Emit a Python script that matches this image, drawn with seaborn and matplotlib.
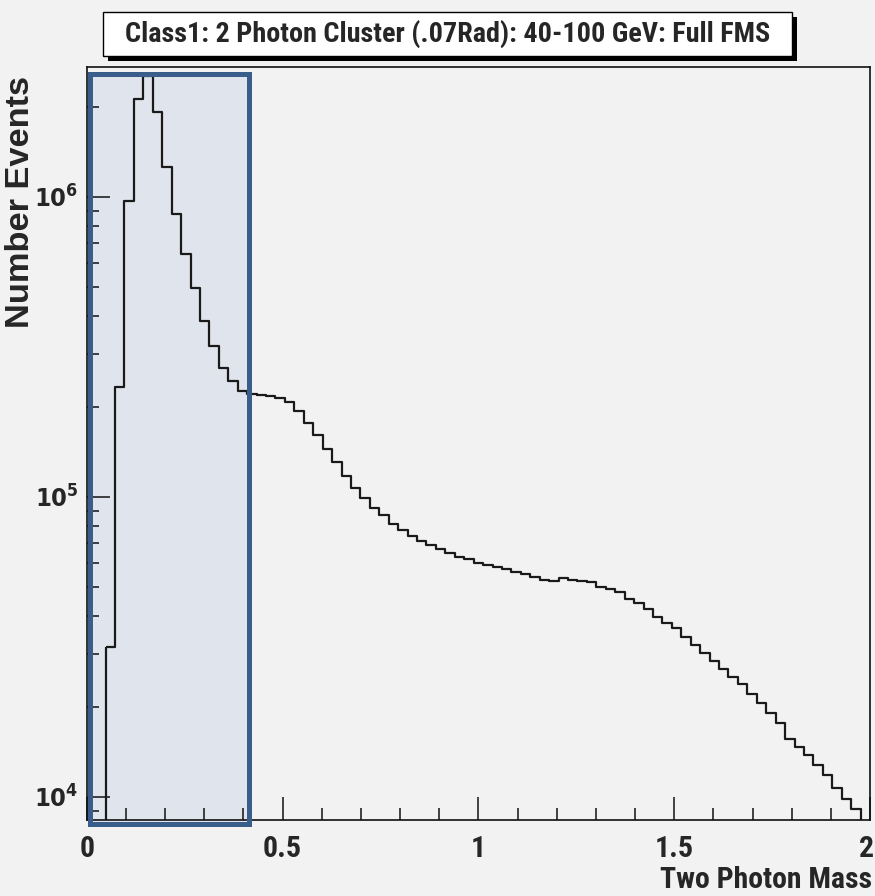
import numpy as np
import pandas as pd
import matplotlib
matplotlib.use("Agg")
import matplotlib.pyplot as plt
import matplotlib.transforms as mtransforms
import seaborn as sns
from matplotlib.patches import Rectangle
from matplotlib import font_manager as fm
from matplotlib.font_manager import FontProperties
from matplotlib.ticker import FixedLocator, FixedFormatter, LogLocator, MultipleLocator, NullFormatter

# ---------------- data ----------------
TITLE = "Class1: 2 Photon Cluster (.07Rad): 40-100 GeV: Full FMS"
X_LABEL = "Two Photon Mass"
Y_LABEL = "Number Events"

X_MIN, X_MAX, N_BINS = 0.0, 2.0, 83   # histogram binning
FIRST_BIN = 2                          # first non-empty bin index

counts = [
    31700, 233000, 972000, 2120000, 2520000, 1920000, 1262000, 876000,
    644000, 496000, 387000, 319000, 268500, 244000, 226000, 220000,
    219000, 217000, 213000, 207000, 194000, 177000, 161000, 145000,
    130500, 117000, 107000, 99000, 91900, 87300, 81000, 77300,
    74000, 71500, 69200, 67100, 65200, 63200, 62100, 60400,
    59300, 58300, 57300, 56300, 55400, 54200, 52900, 52300,
    53500, 52700, 52600, 52100, 50200, 49300, 48100, 45700,
    44400, 42300, 39900, 38100, 36500, 34200, 32100, 30300,
    28500, 26800, 25200, 23800, 22000, 20600, 19100, 17700,
    15600, 14700, 13800, 12800, 11800, 10700, 9850, 9120,
]

x_ticks = [0, 0.5, 1, 1.5, 2]
x_tick_labels = ["0", "0.5", "1", "1.5", "2"]
y_ticks = [1e4, 1e5, 1e6]
y_tick_labels = [r"$\mathbf{10^{4}}$", r"$\mathbf{10^{5}}$", r"$\mathbf{10^{6}}$"]
Y_MIN, Y_MAX = 8380, 2.71e6
HIGHLIGHT_X = (0.0, 0.415)   # shaded mass window

# ---------------- fonts ----------------
sns.set_style("ticks")
ttf = fm.fontManager.ttflist


def _w(f):
    w = f.weight
    if isinstance(w, str):
        w = fm.weight_dict.get(w, 400)
    return w


def pick_condensed():
    named = ["Liberation Sans Narrow", "Arial Narrow", "Roboto Condensed",
             "Open Sans Condensed", "Noto Sans Condensed", "DejaVu Sans Condensed"]
    for fam in named:
        for f in ttf:
            if f.name == fam and _w(f) >= 600 and "italic" not in f.style and "oblique" not in f.style:
                return fam, str(f.stretch)
    for fam in ["Roboto", "Noto Sans", "Open Sans", "Liberation Sans", "DejaVu Sans"]:
        for f in ttf:
            if f.name == fam and _w(f) >= 600 and f.style == "normal" and \
                    str(f.stretch) in ("condensed", "semi-condensed", "extra-condensed"):
                return fam, str(f.stretch)
    return "Liberation Sans", "normal"


NFAM, NSTRETCH = pick_condensed()
NARROW = FontProperties(family=[NFAM, "DejaVu Sans"], weight="bold", stretch=NSTRETCH)
WIDE = FontProperties(family=["Liberation Sans", "DejaVu Sans"], weight="bold")

plt.rcParams["font.family"] = [NFAM, "DejaVu Sans"]
plt.rcParams["font.stretch"] = NSTRETCH
plt.rcParams["mathtext.fontset"] = "custom"
plt.rcParams["mathtext.bf"] = f"{NFAM}:weight=bold:stretch={NSTRETCH}"
plt.rcParams["mathtext.rm"] = f"{NFAM}:weight=bold:stretch={NSTRETCH}"

BG = "#f2f2f2"
W, H = 875, 896
fig = plt.figure(figsize=(W / 100, H / 100), dpi=100, facecolor=BG)
renderer = fig.canvas.get_renderer()


def size_for(s, fp, target_w, base=20.0, rotation=0):
    t = fig.text(0, 0, s, fontproperties=fp, fontsize=base, rotation=rotation)
    bb = t.get_window_extent(renderer)
    t.remove()
    cur = bb.height if rotation == 90 else bb.width
    return base * target_w / cur


ax_l, ax_r, ax_t, ax_b = 86.7, 870.0, 67.0, 820.0
ax = fig.add_axes([ax_l / W, 1 - ax_b / H, (ax_r - ax_l) / W, (ax_b - ax_t) / H])
ax.set_facecolor(BG)

# ---------------- histogram ----------------
edges = np.linspace(X_MIN, X_MAX, N_BINS + 1)
used = edges[FIRST_BIN:FIRST_BIN + len(counts) + 1]
centers = 0.5 * (used[:-1] + used[1:])
df = pd.DataFrame({"mass": centers, "events": counts})

sns.histplot(data=df, x="mass", weights="events", bins=len(counts),
             binrange=(float(used[0]), float(used[-1])), element="step",
             fill=True, facecolor="none", color="#1a1a1a", linewidth=1.6,
             ax=ax, zorder=2)

ax.set_yscale("log")
ax.set_xlim(X_MIN, X_MAX)
ax.set_ylim(Y_MIN, Y_MAX)

# ---------------- axes / ticks ----------------
for s in ax.spines.values():
    s.set_visible(True)
    s.set_color("#111111")
    s.set_linewidth(1.2)

ax.xaxis.set_major_locator(FixedLocator(x_ticks))
ax.xaxis.set_major_formatter(FixedFormatter(x_tick_labels))
ax.xaxis.set_minor_locator(MultipleLocator(0.1))
ax.yaxis.set_major_locator(FixedLocator(y_ticks))
ax.yaxis.set_major_formatter(FixedFormatter(y_tick_labels))
ax.yaxis.set_minor_locator(LogLocator(base=10, subs=np.arange(2, 10)))
ax.yaxis.set_minor_formatter(NullFormatter())

xsize = size_for("0.5", NARROW, 39)
ysize = size_for(y_tick_labels[2], NARROW, 44)

ax.tick_params(which="both", direction="in", top=False, right=False,
               bottom=True, left=True, color="#111111", width=1.1)
ax.tick_params(which="major", length=16.5)
ax.tick_params(which="minor", length=8.5)
ax.tick_params(axis="x", which="major", pad=11, labelsize=xsize)
ax.tick_params(axis="y", which="major", pad=6, labelsize=ysize)
for lab in ax.get_xticklabels() + ax.get_yticklabels():
    lab.set_fontproperties(NARROW)
for lab in ax.get_xticklabels():
    lab.set_fontsize(xsize)
for lab in ax.get_yticklabels():
    lab.set_fontsize(ysize)

# keep the last x label (at the figure edge) inside the picture
last = ax.get_xticklabels()[-1]
last.set_horizontalalignment("right")
last.set_transform(last.get_transform() +
                   mtransforms.ScaledTranslation(4 / 100, 0, fig.dpi_scale_trans))

ax.set_xlabel("")
ax.set_ylabel("")
fig.text(872 / W, 1 - 880 / H, X_LABEL, ha="right", va="center",
         fontproperties=NARROW, fontsize=size_for(X_LABEL, NARROW, 212))
fig.text(21 / W, 1 - 202 / H, Y_LABEL, rotation=90, ha="center", va="center",
         fontproperties=WIDE, fontsize=size_for(Y_LABEL, WIDE, 252, rotation=90))

# ---------------- highlighted window ----------------
px = lambda v: ax_l + (v - X_MIN) / (X_MAX - X_MIN) * (ax_r - ax_l)
rx0, rx1 = px(HIGHLIGHT_X[0]) + 2.8, px(HIGHLIGHT_X[1])
ry0, ry1 = 74.0, 823.5
rect_kw = dict(transform=fig.transFigure, clip_on=False)
ax.add_patch(Rectangle((rx0 / W, 1 - ry1 / H), (rx1 - rx0) / W, (ry1 - ry0) / H,
                       facecolor="#e0e4ec", edgecolor="none", zorder=0.5, **rect_kw))
ax.add_patch(Rectangle((rx0 / W, 1 - ry1 / H), (rx1 - rx0) / W, (ry1 - ry0) / H,
                       facecolor="none", edgecolor="#3a5e8c", linewidth=3.6,
                       zorder=5, **rect_kw))

# ---------------- title box ----------------
bx0, bx1, by0, by1 = 103, 792, 12, 56
sh = 5
fig.patches.append(Rectangle(((bx0 + sh) / W, 1 - (by1 + sh) / H), (bx1 - bx0) / W,
                             (by1 - by0) / H, transform=fig.transFigure,
                             facecolor="#000000", edgecolor="none", zorder=1))
fig.patches.append(Rectangle((bx0 / W, 1 - by1 / H), (bx1 - bx0) / W, (by1 - by0) / H,
                             transform=fig.transFigure, facecolor="white",
                             edgecolor="#000000", linewidth=1.0, zorder=2))
fig.text((bx0 + bx1) / 2 / W, 1 - (by0 + by1) / 2 / H, TITLE, ha="center",
         va="center", fontproperties=NARROW, fontsize=size_for(TITLE, NARROW, 644),
         zorder=3)

fig.savefig("out.png", dpi=100, facecolor=BG)
